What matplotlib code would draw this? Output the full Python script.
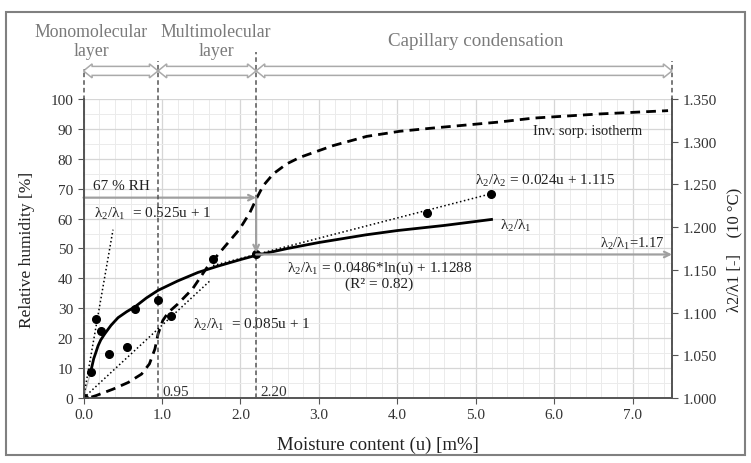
import numpy as np
import matplotlib.pyplot as plt
import matplotlib.transforms as mtransforms
from matplotlib.patches import Polygon, Rectangle
from matplotlib.ticker import MultipleLocator, FormatStrFormatter

plt.rcParams['font.family'] = 'Liberation Serif'
plt.rcParams['mathtext.fontset'] = 'custom'
plt.rcParams['mathtext.rm'] = 'Liberation Serif'
plt.rcParams['mathtext.it'] = 'Liberation Serif'
plt.rcParams['mathtext.bf'] = 'Liberation Serif:bold'

# measured ratio lambda2/lambda1 (right axis)
u_meas = [0.0, 0.09, 0.163, 0.22, 0.32, 0.56, 0.66, 0.95, 1.11, 1.65, 2.2, 4.38, 5.19]
lam_meas = [1.000, 1.030, 1.093, 1.078, 1.052, 1.060, 1.104, 1.115, 1.096, 1.163, 1.168, 1.217, 1.239]

# logarithmic fit curve
u_fit = [0.09, 0.11, 0.13, 0.16, 0.185, 0.22, 0.27, 0.35, 0.44, 0.55, 0.66, 0.8, 0.95,
         1.2, 1.46, 1.7, 2.0, 2.2, 2.6, 3.0, 3.6, 4.0, 4.6, 5.2]
lam_fit = [1.030, 1.038, 1.046, 1.054, 1.061, 1.068, 1.075, 1.085, 1.094, 1.101, 1.107, 1.117, 1.126,
           1.137, 1.147, 1.154, 1.162, 1.167, 1.175, 1.182, 1.191, 1.196, 1.202, 1.209]

# linear trend lines
lin1_u, lin1_lam = [0.0, 0.376], [1.000, 1.197]
lin2_u, lin2_lam = [0.0, 1.61], [1.000, 1.137]
lin3_u, lin3_lam = [1.65, 5.19], [1.155, 1.239]

# inverse sorption isotherm (left axis, RH %)
u_iso = [0.1, 0.16, 0.38, 0.57, 0.74, 0.84, 0.91, 0.95, 1.01, 1.08, 1.2, 1.39, 1.57, 1.78, 1.99,
         2.12, 2.21, 2.29, 2.42, 2.59, 2.76, 3.18, 3.61, 4.03, 4.46, 4.88, 5.3, 5.73, 6.58, 7.45]
rh_iso = [0.3, 0.8, 3.0, 5.2, 8.0, 11.4, 16.4, 21.4, 25.9, 28.6, 31.4, 36.5, 43.5, 50.0, 56.5,
          62.0, 67.0, 71.0, 75.0, 78.3, 80.5, 84.4, 87.5, 89.2, 90.3, 91.3, 92.3, 93.6, 95.0, 96.1]

zone_bounds = [0.0, 0.95, 2.2, 7.5]
rh_mark = 67
lam_mark = 1.17

fig = plt.figure(figsize=(7.51, 4.64), dpi=100)
ax = fig.add_axes([0.1112, 0.1401, 0.7836, 0.6444])
ax2 = ax.twinx()

ax.set_xlim(0, 7.5)
ax.set_ylim(0, 100)
ax2.set_ylim(1.0, 1.35)

ax.xaxis.set_major_locator(MultipleLocator(1.0))
ax.xaxis.set_minor_locator(MultipleLocator(0.2))
ax.yaxis.set_major_locator(MultipleLocator(10))
ax.yaxis.set_minor_locator(MultipleLocator(5))
ax.xaxis.set_major_formatter(FormatStrFormatter('%.1f'))
ax2.yaxis.set_major_locator(MultipleLocator(0.05))
ax2.yaxis.set_major_formatter(FormatStrFormatter('%.3f'))
ax.set_xticks(np.arange(0, 7.01, 1.0))

ax.grid(which='major', color='#d6d6d6', lw=0.9)
ax.grid(which='minor', color='#ebebeb', lw=0.7)
ax.set_axisbelow(True)

for a in (ax, ax2):
    a.spines['top'].set_visible(False)
    for s in ('left', 'bottom', 'right'):
        a.spines[s].set_color('#555555')
        a.spines[s].set_linewidth(1.2)
    a.tick_params(which='major', length=4, color='#555555', labelsize=11, labelcolor='#333333')
    a.tick_params(which='minor', length=0)
ax2.tick_params(axis='y', pad=4)

# isotherm
ax.plot(u_iso, rh_iso, color='black', lw=2.0, ls=(0, (3.5, 2.2)), zorder=3)

# fit, trend lines and measured points on the right axis
ax2.plot([u_meas[0], u_meas[1]], [lam_meas[0], lam_meas[1]], color='#bbbbbb', lw=1.0)
ax2.plot(u_fit, lam_fit, color='black', lw=2.0)
ax2.plot(lin1_u, lin1_lam, color='black', lw=1.1, ls=':')
ax2.plot(lin2_u, lin2_lam, color='black', lw=1.1, ls=':')
ax2.plot(lin3_u, lin3_lam, color='black', lw=1.1, ls=':')
ax2.plot(u_meas, lam_meas, 'o', color='black', ms=5.5)

# vertical zone lines extending above the plot
tops = [1.10, 1.127, 1.157, 1.127]
for xb, tp in zip(zone_bounds, tops):
    ax.axvline(xb, ymin=0, ymax=tp, color='#555555', lw=1.1, ls=(0, (3, 2)), clip_on=False, zorder=4)

# hollow double arrows between zone lines
trans = mtransforms.blended_transform_factory(ax.transData, ax.transAxes)
px = 1.0 / 299.0
hl = 0.11
yc = 1.094
for x0, x1 in zip(zone_bounds[:-1], zone_bounds[1:]):
    pts = [(x0, yc), (x0 + hl, yc + 7 * px), (x0 + hl, yc + 4.5 * px), (x1 - hl, yc + 4.5 * px),
           (x1 - hl, yc + 7 * px), (x1, yc), (x1 - hl, yc - 7 * px), (x1 - hl, yc - 4.5 * px),
           (x0 + hl, yc - 4.5 * px), (x0 + hl, yc - 7 * px)]
    ax.add_patch(Polygon(pts, closed=True, transform=trans, fc='white', ec='#aaaaaa',
                         lw=1.1, clip_on=False, zorder=3))

zone_col = '#7a7a7a'
ax.text(0.1, 1.194, 'Monomolecular\nlayer', transform=trans, ha='center', va='center',
        fontsize=12.8, color=zone_col, linespacing=1.1)
ax.text(1.69, 1.194, 'Multimolecular\nlayer', transform=trans, ha='center', va='center',
        fontsize=12.8, color=zone_col, linespacing=1.1)
ax.text(5.0, 1.194, 'Capillary condensation', transform=trans, ha='center', va='center',
        fontsize=13.7, color=zone_col)

# grey guide arrows
gcol = '#a0a0a0'
ax.annotate('', xy=(zone_bounds[2], rh_mark), xytext=(0, rh_mark),
            arrowprops=dict(arrowstyle='->', color=gcol, lw=1.6, shrinkA=0, shrinkB=0))
ax2.annotate('', xy=(zone_bounds[2], lam_meas[10] + 0.002), xytext=(zone_bounds[2], 1.0 + rh_mark * 0.0035),
             arrowprops=dict(arrowstyle='->', color=gcol, lw=1.6, shrinkA=0, shrinkB=0))
ax2.annotate('', xy=(7.5, lam_mark - 0.002), xytext=(zone_bounds[2], lam_mark - 0.002),
             arrowprops=dict(arrowstyle='->', color=gcol, lw=1.6, shrinkA=0, shrinkB=0), annotation_clip=False)

lab = r'$\lambda_2/\lambda_1$'
tc = '#222222'
ax.text(0.12, 71.2, '67 % RH', fontsize=11, color=tc, va='center')
ax.text(0.14, 62, lab + '  = 0.525u + 1', fontsize=11, color=tc, va='center')
ax.text(1.40, 24.7, lab + '  = 0.085u + 1', fontsize=11, color=tc, va='center')
ax.text(3.77, 41.5, lab + ' = 0.0486*ln(u) + 1.1288\n(R² = 0.82)', fontsize=11, color=tc,
        ha='center', va='center', multialignment='center', linespacing=1.05)
ax.text(5.89, 73, r'$\lambda_2/\lambda_2$ = 0.024u + 1.115', fontsize=11, color=tc, ha='center', va='center')
ax.text(5.31, 58, lab, fontsize=11, color=tc, va='center')
ax.text(7.41, 52, lab + '=1.17', fontsize=10.5, color=tc, ha='right', va='center')
ax.text(6.42, 89.4, 'Inv. sorp. isotherm', fontsize=10.5, color=tc, ha='center', va='center')
ax.text(1.0, 2.2, '0.95', fontsize=11, color='#333333', va='center')
ax.text(2.25, 2.2, '2.20', fontsize=11, color='#333333', va='center')

ax.set_xlabel('Moisture content (u) [m%]', fontsize=13.5, color=tc)
ax.xaxis.set_label_coords(0.5, -0.127)
ax.set_ylabel('Relative humidity [%]', fontsize=12.5, color=tc)
ax.yaxis.set_label_coords(-0.082, 0.5)
ax2.set_ylabel('λ2/λ1 [-]    (10 °C)', fontsize=12, color=tc, rotation=90)
ax2.yaxis.set_label_coords(1.093, 0.5)

fig.patches.append(Rectangle((6 / 751, 8 / 464), 739 / 751, 443 / 464, transform=fig.transFigure,
                             fill=False, ec='#808080', lw=1.5))

fig.savefig('out.png', dpi=100)
